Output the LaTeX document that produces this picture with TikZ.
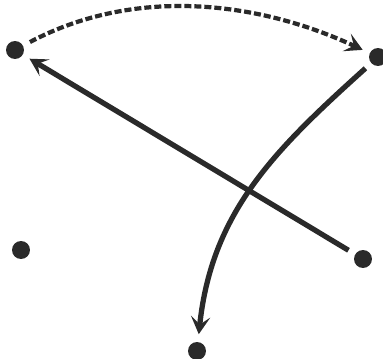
\documentclass[tikz,border=0pt]{standalone}
\usepackage{tikz}
\usetikzlibrary{arrows.meta}
\definecolor{sketchdark}{HTML}{2A2A2A}

\begin{document}
\begin{tikzpicture}[x=0.02cm,y=0.02cm,
    dot/.style={circle,fill=sketchdark,minimum size=0.36cm,inner sep=0pt,outer sep=4.5pt},
    move/.style={sketchdark,line width=3pt,-{Stealth[length=10pt,width=11pt,inset=4.5pt]}}]
    \useasboundingbox (0,0) rectangle (383,359);
    \node[dot] (tl) at (15,309) {};
    \node[dot] (tr) at (378,302) {};
    \node[dot] (ml) at (21,109) {};
    \node[dot] (mr) at (363,100) {};
    \node[dot] (bt) at (197,8) {};
    \draw[move,line width=2.4pt,dash pattern=on 4pt off 1.7pt] (tl) to[out=28,in=155,looseness=0.9] (tr);
    \draw[move] (mr) -- (tl);
    \draw[move] (tr) to[out=222,in=84] (bt);
  \end{tikzpicture}
\end{document}
